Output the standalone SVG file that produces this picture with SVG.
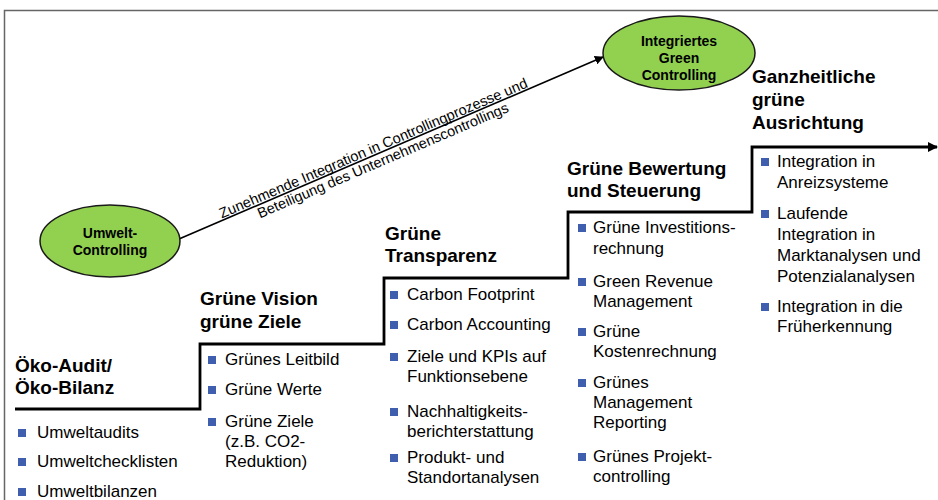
<svg xmlns="http://www.w3.org/2000/svg" width="938" height="500" viewBox="0 0 938 500">
<style>
.h{font-family:"Liberation Sans",Arial,sans-serif;font-weight:bold;font-size:19px;fill:#000}
.b{font-family:"Liberation Sans",Arial,sans-serif;font-size:17px;fill:#000}
.e{font-family:"Liberation Sans",Arial,sans-serif;font-weight:bold;font-size:14px;fill:#000;text-anchor:middle}
.l{font-family:"Liberation Sans",Arial,sans-serif;font-size:14.5px;fill:#000;text-anchor:middle}
.bul{fill:#3F5EAE}
.oval{fill:#92D050;stroke:#1a1a1a;stroke-width:1.5}
</style>
<defs>
<marker id="ah" viewBox="0 0 10 10" refX="9" refY="5" markerWidth="10" markerHeight="10" markerUnits="userSpaceOnUse" orient="auto">
<path d="M0,0 L10,5 L0,10 z" fill="#000"/>
</marker>
<marker id="ah2" viewBox="0 0 10 10" refX="9" refY="5" markerWidth="9" markerHeight="9" markerUnits="userSpaceOnUse" orient="auto">
<path d="M0,0 L10,5 L0,10 z" fill="#000"/>
</marker>
</defs>
<rect width="938" height="500" fill="#fff"/>
<path d="M4.5,500 V10.5 H938" fill="none" stroke="#666" stroke-width="1.5"/>

<g id="connectors">
<path id="stairs" d="M15,409 H200 V344 H384 V278 H568 V212 H752 V147 H937" fill="none" stroke="#000" stroke-width="2.8" marker-end="url(#ah)"/>
<line id="trend" x1="179" y1="239" x2="603" y2="57" stroke="#000" stroke-width="1.6" marker-end="url(#ah2)"/>
<g transform="translate(376,154.5) rotate(-23.2)">
<text class="l" x="0" y="-2">Zunehmende Integration in Controllingprozesse und</text>
<text class="l" x="4" y="13">Beteiligung des Unternehmenscontrollings</text>
</g>
</g>

<g id="umwelt-controlling">
<ellipse class="oval" cx="110" cy="241" rx="70" ry="36"/>
<text class="e" x="110" y="238">Umwelt-</text>
<text class="e" x="110" y="255">Controlling</text>
</g>

<g id="integriertes-green-controlling">
<ellipse class="oval" cx="679" cy="53" rx="76" ry="37"/>
<text class="e" x="679" y="46">Integriertes</text>
<text class="e" x="679" y="63">Green</text>
<text class="e" x="679" y="80">Controlling</text>
</g>

<g id="stage1">
<text class="h" x="15" y="372">Öko-Audit/</text>
<text class="h" x="15" y="394">Öko-Bilanz</text>
<rect class="bul" x="18" y="429" width="8" height="8"/>
<text class="b" x="37" y="438">Umweltaudits</text>
<rect class="bul" x="18" y="458" width="8" height="8"/>
<text class="b" x="37" y="467">Umweltchecklisten</text>
<rect class="bul" x="18" y="488" width="8" height="8"/>
<text class="b" x="37" y="497">Umweltbilanzen</text>
</g>

<g id="stage2">
<text class="h" x="200" y="305">Grüne Vision</text>
<text class="h" x="200" y="328">grüne Ziele</text>
<rect class="bul" x="208" y="356" width="8" height="8"/>
<text class="b" x="225" y="365">Grünes Leitbild</text>
<rect class="bul" x="208" y="386" width="8" height="8"/>
<text class="b" x="225" y="395">Grüne Werte</text>
<rect class="bul" x="208" y="418" width="8" height="8"/>
<text class="b" x="225" y="427">Grüne Ziele</text>
<text class="b" x="225" y="447">(z.B. CO2-</text>
<text class="b" x="225" y="467">Reduktion)</text>
</g>

<g id="stage3">
<text class="h" x="385" y="240">Grüne</text>
<text class="h" x="385" y="262">Transparenz</text>
<rect class="bul" x="390" y="291" width="8" height="8"/>
<text class="b" x="407" y="300">Carbon Footprint</text>
<rect class="bul" x="390" y="321" width="8" height="8"/>
<text class="b" x="407" y="330">Carbon Accounting</text>
<rect class="bul" x="390" y="353" width="8" height="8"/>
<text class="b" x="407" y="362">Ziele und KPIs auf</text>
<text class="b" x="407" y="382">Funktionsebene</text>
<rect class="bul" x="390" y="408" width="8" height="8"/>
<text class="b" x="407" y="417">Nachhaltigkeits-</text>
<text class="b" x="407" y="437">berichterstattung</text>
<rect class="bul" x="390" y="454" width="8" height="8"/>
<text class="b" x="407" y="463">Produkt- und</text>
<text class="b" x="407" y="483">Standortanalysen</text>
</g>

<g id="stage4">
<text class="h" x="567" y="175">Grüne Bewertung</text>
<text class="h" x="567" y="197">und Steuerung</text>
<rect class="bul" x="578" y="224" width="8" height="8"/>
<text class="b" x="593" y="233">Grüne Investitions-</text>
<text class="b" x="593" y="254">rechnung</text>
<rect class="bul" x="578" y="278" width="8" height="8"/>
<text class="b" x="593" y="287">Green Revenue</text>
<text class="b" x="593" y="307">Management</text>
<rect class="bul" x="578" y="328" width="8" height="8"/>
<text class="b" x="593" y="337">Grüne</text>
<text class="b" x="593" y="357">Kostenrechnung</text>
<rect class="bul" x="578" y="379" width="8" height="8"/>
<text class="b" x="593" y="388">Grünes</text>
<text class="b" x="593" y="408">Management</text>
<text class="b" x="593" y="428">Reporting</text>
<rect class="bul" x="578" y="453" width="8" height="8"/>
<text class="b" x="593" y="462">Grünes Projekt-</text>
<text class="b" x="593" y="482">controlling</text>
</g>

<g id="stage5">
<text class="h" x="752" y="83">Ganzheitliche</text>
<text class="h" x="752" y="106">grüne</text>
<text class="h" x="752" y="129">Ausrichtung</text>
<rect class="bul" x="761" y="158" width="8" height="8"/>
<text class="b" x="777" y="167">Integration in</text>
<text class="b" x="777" y="188">Anreizsysteme</text>
<rect class="bul" x="761" y="210" width="8" height="8"/>
<text class="b" x="777" y="219">Laufende</text>
<text class="b" x="777" y="240">Integration in</text>
<text class="b" x="777" y="261">Marktanalysen und</text>
<text class="b" x="777" y="282">Potenzialanalysen</text>
<rect class="bul" x="761" y="303" width="8" height="8"/>
<text class="b" x="777" y="312">Integration in die</text>
<text class="b" x="777" y="332">Früherkennung</text>
</g>
</svg>
